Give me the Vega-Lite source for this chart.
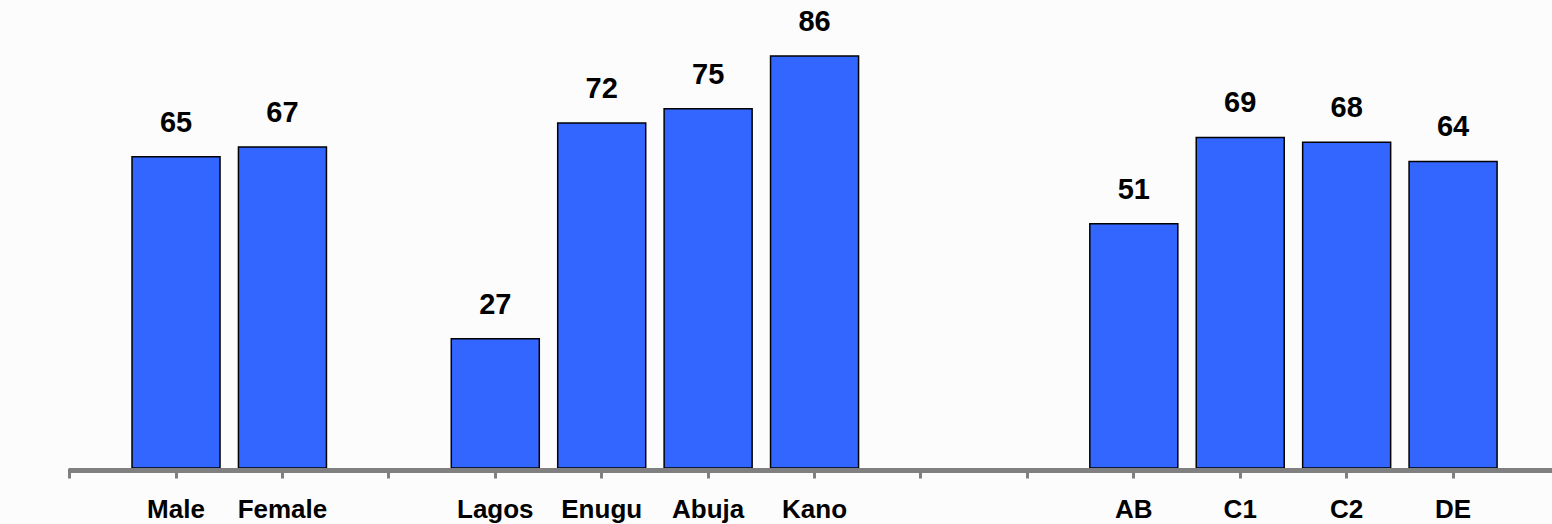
{
  "$schema": "https://vega.github.io/schema/vega-lite/v6.json",
  "width": 1552,
  "height": 468,
  "padding": {"left": 0, "right": 0, "top": 0, "bottom": 56},
  "autosize": {"type": "none"},
  "background": "#fcfcfc",
  "config": {"view": {"stroke": null}, "font": "Liberation Sans"},
  "data": {
    "values": [
      {"segment": "Male", "pct": 65},
      {"segment": "Female", "pct": 67},
      {"segment": "Lagos", "pct": 27},
      {"segment": "Enugu", "pct": 72},
      {"segment": "Abuja", "pct": 75},
      {"segment": "Kano", "pct": 86},
      {"segment": "AB", "pct": 51},
      {"segment": "C1", "pct": 69},
      {"segment": "C2", "pct": 68},
      {"segment": "DE", "pct": 64}
    ]
  },
  "encoding": {
    "x": {
      "field": "segment",
      "type": "nominal",
      "sort": null,
      "scale": {
        "domain": ["_0", "Male", "Female", "_1", "Lagos", "Enugu", "Abuja", "Kano", "_2", "_3", "AB", "C1", "C2", "DE", "_end"],
        "range": [25.6, 1603.5],
        "paddingInner": 0.173,
        "paddingOuter": 0,
        "round": false
      },
      "axis": {
        "title": null,
        "domain": false,
        "grid": false,
        "ticks": true,
        "tickColor": "#808080",
        "tickWidth": 3,
        "tickSize": 10,
        "labelFont": "Liberation Sans",
        "labelFontSize": 26,
        "labelFontWeight": "bold",
        "labelColor": "#000000",
        "labelPadding": 39,
        "labelBaseline": "alphabetic",
        "labelAngle": 0,
        "labelOverlap": false,
        "labelBound": false,
        "labelExpr": "indexof(datum.label, '_') == 0 ? '' : datum.label"
      }
    },
    "y": {
      "field": "pct",
      "type": "quantitative",
      "scale": {"domain": [0, 97.7], "nice": false, "zero": true},
      "axis": null
    }
  },
  "layer": [
    {
      "mark": {"type": "bar", "color": "#3366ff", "stroke": "#000000", "strokeWidth": 1.5}
    },
    {
      "mark": {"type": "text", "font": "Liberation Sans", "fontSize": 29, "fontWeight": "bold", "baseline": "alphabetic", "dy": -25, "color": "#000000"},
      "encoding": {"text": {"field": "pct", "type": "quantitative"}}
    },
    {
      "mark": {"type": "rule", "color": "#808080", "strokeWidth": 5, "yOffset": 2.5},
      "encoding": {
        "x": {"datum": "_0", "type": "nominal"},
        "x2": {"datum": "_end"},
        "y": {"datum": 0, "type": "quantitative"}
      }
    }
  ]
}
